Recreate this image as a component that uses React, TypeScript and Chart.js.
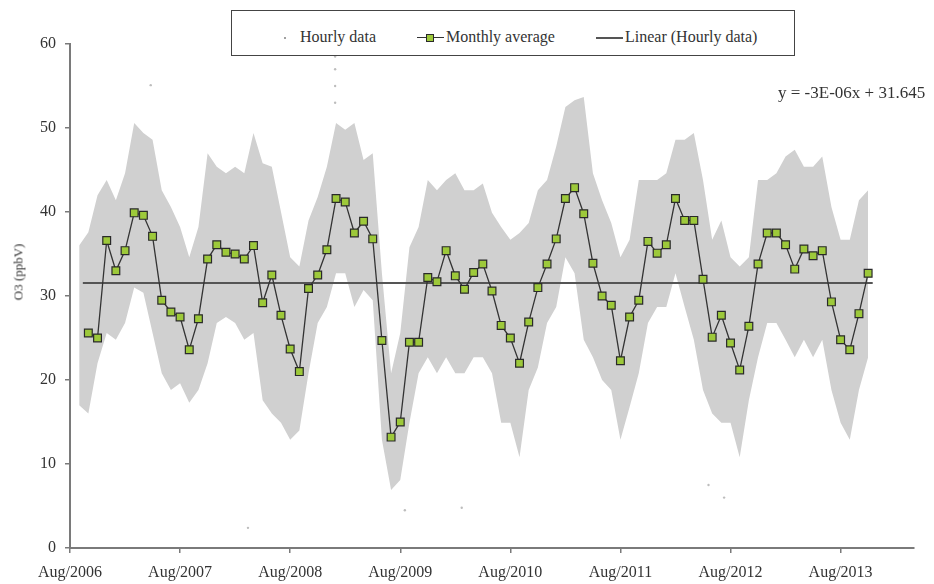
import { useEffect, useRef } from 'react';
import { Chart, registerables } from 'chart.js';

Chart.register(...registerables);

// Month index: 0 = Aug/2006, 12 = Aug/2007, ...
const TICK_LABELS = ['Aug/2006', 'Aug/2007', 'Aug/2008', 'Aug/2009', 'Aug/2010', 'Aug/2011', 'Aug/2012', 'Aug/2013'];
const MONTHLY_START = 2; // first monthly average = Oct/2006
const HOURLY_START = 1; // hourly envelope starts Sep/2006

// Monthly average O3 (ppbV), Oct/2006 onward
const MONTHLY_AVG = [
  25.6, 25.0, 36.6, 33.0, 35.4, 39.9, 39.6, 37.1, 29.5, 28.1, 27.5, 23.6,
  27.3, 34.4, 36.1, 35.2, 35.0, 34.4, 36.0, 29.2, 32.5, 27.7, 23.7, 21.0,
  30.9, 32.5, 35.5, 41.6, 41.2, 37.5, 38.9, 36.8, 24.7, 13.2, 15.0, 24.5,
  24.5, 32.2, 31.7, 35.4, 32.4, 30.8, 32.8, 33.8, 30.6, 26.5, 25.0, 22.0,
  26.9, 31.0, 33.8, 36.8, 41.6, 42.9, 39.8, 33.9, 30.0, 28.9, 22.3, 27.5,
  29.5, 36.5, 35.1, 36.1, 41.6, 39.0, 39.0, 32.0, 25.1, 27.7, 24.4, 21.2,
  26.4, 33.8, 37.5, 37.5, 36.1, 33.2, 35.6, 34.8, 35.4, 29.3, 24.8, 23.6,
  27.9, 32.7,
];

// Hourly data cloud: upper / lower extent per month, Sep/2006 onward
const HOURLY_HIGH = [
  36.0, 37.6, 42.0, 43.8, 41.4, 44.6, 50.6, 49.4, 48.6, 42.6, 40.6, 38.2,
  34.6, 38.2, 47.0, 45.4, 44.6, 45.4, 44.6, 49.4, 45.8, 45.4, 40.0, 34.6,
  33.5, 39.0, 41.8, 45.4, 50.6, 49.8, 50.6, 46.2, 47.0, 32.7, 20.8, 25.6,
  35.8, 38.2, 43.8, 42.6, 43.8, 44.6, 42.6, 42.6, 43.4, 39.9, 38.2, 36.7,
  37.5, 38.7, 42.6, 43.8, 47.8, 52.5, 53.3, 53.7, 44.6, 41.4, 38.7, 34.6,
  36.7, 43.8, 43.8, 43.8, 44.6, 48.6, 48.6, 49.4, 43.8, 36.7, 39.0, 34.6,
  33.5, 34.6, 43.8, 43.8, 44.6, 46.6, 47.4, 45.4, 45.4, 46.6, 40.6, 36.7,
  36.7, 41.4, 42.6,
];
const HOURLY_LOW = [
  17.0, 16.0, 22.0, 25.6, 24.8, 26.8, 31.0, 30.4, 25.6, 20.8, 18.8, 19.6,
  17.3, 18.8, 22.0, 26.8, 27.5, 26.8, 24.8, 25.6, 17.6, 16.0, 14.9, 12.9,
  14.0, 20.8, 26.8, 28.7, 32.7, 32.7, 28.7, 30.7, 29.5, 12.9, 6.9, 8.1,
  14.9, 20.8, 22.7, 20.8, 22.7, 20.8, 20.8, 22.7, 22.7, 20.8, 14.9, 14.9,
  10.8, 18.8, 21.5, 26.8, 28.7, 34.6, 32.7, 24.8, 22.7, 20.0, 18.8, 12.9,
  16.8, 20.8, 26.8, 28.7, 28.7, 32.7, 28.7, 24.8, 18.8, 16.0, 14.9, 14.9,
  10.8, 17.6, 22.7, 26.8, 26.8, 24.8, 22.7, 24.8, 22.7, 24.8, 18.8, 14.9,
  12.9, 18.8, 22.7,
];

// A few isolated hourly values outside the dense cloud
const OUTLIER_MONTH = [28.9, 28.9, 28.9, 28.9, 8.8, 19.4, 36.5, 42.7, 71.3, 69.6];
const OUTLIER_VALUE = [58.5, 57.0, 55.0, 53.0, 55.1, 2.4, 4.5, 4.8, 6.0, 7.5];

// Linear trend of hourly data
const TREND_VALUE = 31.55;
const TREND_START = 1.4;
const TREND_END = 87.5;

const SERIF = "'Liberation Serif', 'DejaVu Serif', serif";

export default function App() {
  const ref = useRef<HTMLCanvasElement>(null);

  useEffect(() => {
    if (!ref.current) return;
    const monthly = MONTHLY_AVG.map((v, i) => ({ x: i + MONTHLY_START, y: v }));
    const high = HOURLY_HIGH.map((v, i) => ({ x: i + HOURLY_START, y: v }));
    const low = HOURLY_LOW.map((v, i) => ({ x: i + HOURLY_START, y: v }));
    const outliers = OUTLIER_MONTH.map((m, i) => ({ x: m, y: OUTLIER_VALUE[i] }));
    const trend = [
      { x: TREND_START, y: TREND_VALUE },
      { x: TREND_END, y: TREND_VALUE },
    ];

    const chart = new Chart(ref.current, {
      type: 'line',
      data: {
        datasets: [
          {
            label: 'Hourly high',
            data: high,
            borderWidth: 0,
            borderColor: 'rgba(0,0,0,0)',
            pointRadius: 0,
            fill: '+1',
            backgroundColor: '#d0d0d0',
            tension: 0,
            order: 4,
          },
          {
            label: 'Hourly low',
            data: low,
            borderWidth: 0,
            borderColor: 'rgba(0,0,0,0)',
            pointRadius: 0,
            fill: false,
            tension: 0,
            order: 5,
          },
          {
            label: 'Hourly data',
            data: outliers,
            showLine: false,
            pointRadius: 1.2,
            pointBackgroundColor: '#bdbdbd',
            pointBorderWidth: 0,
            order: 3,
          },
          {
            label: 'Linear (Hourly data)',
            data: trend,
            borderColor: '#555555',
            borderWidth: 2,
            pointRadius: 0,
            fill: false,
            order: 1,
          },
          {
            label: 'Monthly average',
            data: monthly,
            borderColor: '#333333',
            borderWidth: 1.3,
            pointStyle: 'rect',
            pointRadius: 5.5,
            pointBackgroundColor: '#9dc93a',
            pointBorderColor: '#2a2a2a',
            pointBorderWidth: 1.2,
            fill: false,
            tension: 0,
            order: 0,
          },
        ],
      },
      options: {
        responsive: false,
        animation: false,
        events: [],
        layout: { padding: { left: 0, top: 44, right: 20, bottom: 0 } },
        plugins: {
          legend: { display: false },
          tooltip: { enabled: false },
          title: { display: false },
        },
        scales: {
          x: {
            type: 'linear',
            min: 0,
            max: 92,
            afterFit: (s: any) => {
              s.height = 36;
            },
            afterBuildTicks: (s: any) => {
              s.ticks = TICK_LABELS.map((_, i) => ({ value: i * 12 }));
            },
            ticks: {
              callback: (v: any) => TICK_LABELS[Math.round(Number(v) / 12)] ?? '',
              font: { family: SERIF, size: 16 },
              color: '#333333',
              padding: 10,
              maxRotation: 0,
              autoSkip: false,
            },
            grid: {
              drawOnChartArea: false,
              drawTicks: true,
              tickLength: 5,
              color: '#7a7a7a',
              lineWidth: 1.5,
            },
            border: { color: '#7a7a7a', width: 2 },
          },
          y: {
            type: 'linear',
            min: 0,
            max: 60,
            afterFit: (s: any) => {
              s.width = 70;
            },
            ticks: {
              stepSize: 10,
              font: { family: SERIF, size: 16 },
              color: '#333333',
              padding: 9,
            },
            grid: {
              drawOnChartArea: false,
              drawTicks: true,
              tickLength: 5,
              color: '#7a7a7a',
              lineWidth: 1.5,
            },
            border: { color: '#7a7a7a', width: 2 },
          },
        },
      },
    });
    return () => chart.destroy();
  }, []);

  const textStyle: React.CSSProperties = {
    position: 'absolute',
    fontFamily: SERIF,
    fontSize: 16,
    color: '#333',
    lineHeight: '16px',
    whiteSpace: 'nowrap',
  };

  return (
    <div style={{ position: 'absolute', left: 0, top: 0, width: 934, height: 584, background: '#fff' }}>
      <canvas ref={ref} width={934} height={584} style={{ position: 'absolute', left: 0, top: 0 }} />
      {/* Legend */}
      <div
        style={{
          position: 'absolute',
          left: 231,
          top: 10,
          width: 562,
          height: 44,
          border: '1.5px solid #444',
          background: '#fff',
        }}
      />
      <div style={{ position: 'absolute', left: 284, top: 37, width: 2, height: 2, background: '#a0a0a0' }} />
      <div style={{ ...textStyle, left: 300, top: 29 }}>Hourly data</div>
      <div style={{ position: 'absolute', left: 417, top: 37, width: 27, height: 1.3, background: '#333' }} />
      <div
        style={{
          position: 'absolute',
          left: 426,
          top: 34,
          width: 6,
          height: 6,
          background: '#9dc93a',
          border: '1px solid #2a2a2a',
        }}
      />
      <div style={{ ...textStyle, left: 446, top: 29 }}>Monthly average</div>
      <div style={{ position: 'absolute', left: 596, top: 37, width: 27, height: 2, background: '#555' }} />
      <div style={{ ...textStyle, left: 625, top: 29 }}>Linear (Hourly data)</div>
      {/* Trend equation */}
      <div style={{ ...textStyle, left: 778, top: 84, fontSize: 17, lineHeight: '17px' }}>y = -3E-06x + 31.645</div>
      {/* Y axis title */}
      <div
        style={{
          ...textStyle,
          fontSize: 13,
          lineHeight: '13px',
          left: 18,
          top: 272,
          transform: 'translate(-50%, -50%) rotate(-90deg)',
        }}
      >
        O3 (ppbV)
      </div>
    </div>
  );
}
